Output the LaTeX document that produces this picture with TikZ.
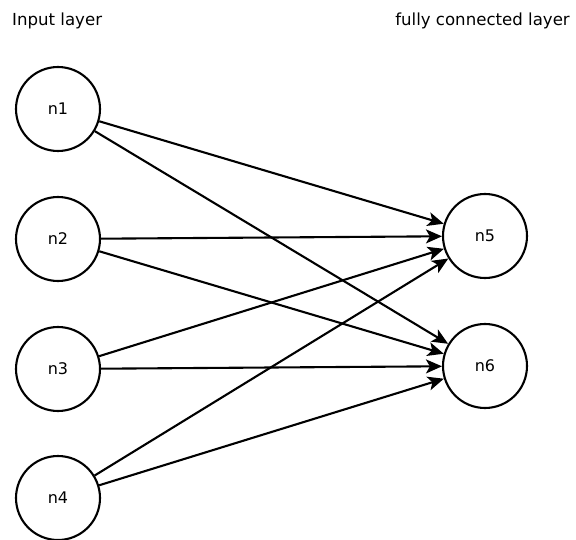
\documentclass[tikz,border=0pt]{standalone}
\usepackage{fontspec}
\setmainfont{DejaVu Sans}
\usetikzlibrary{arrows.meta}
\begin{document}
\begin{tikzpicture}[x=1pt,y=-1pt,
  neuron/.style={circle,draw,line width=2.1pt,minimum size=84pt,inner sep=0pt,font=\fontsize{16}{19}\selectfont},
  conn/.style={line width=2.1pt,-{Stealth[length=16pt,width=14pt,inset=4pt]}},
  lbl/.style={font=\fontsize{16.6}{19}\selectfont,inner sep=0pt}]
\useasboundingbox (0,0) rectangle (576,540);
\node[lbl,anchor=west] (t1) at (12,21) {Input layer};
\node[lbl,anchor=east] (t2) at (570,21) {fully connected layer};
\node[neuron] (n1) at (58,109) {n1};
\node[neuron] (n2) at (58,239) {n2};
\node[neuron] (n3) at (58,369) {n3};
\node[neuron] (n4) at (58,498) {n4};
\node[neuron] (n5) at (485,236) {n5};
\node[neuron] (n6) at (485,366) {n6};
\foreach \s in {n1,n2,n3,n4}{
  \draw[conn] (\s) -- (n5);
  \draw[conn] (\s) -- (n6);
}
\end{tikzpicture}
\end{document}
